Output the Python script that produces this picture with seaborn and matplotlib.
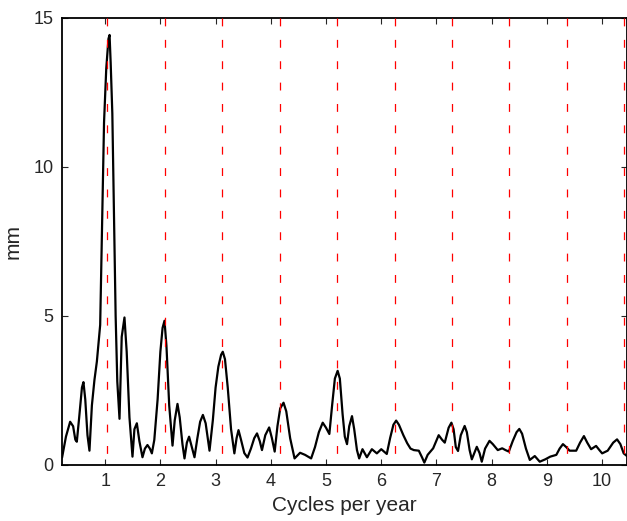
import numpy as np
import pandas as pd
import seaborn as sns
import matplotlib
matplotlib.use("Agg")
import matplotlib.pyplot as plt

# amplitude spectrum (cycles per year, mm)
freq = [0.22, 0.29, 0.366, 0.42, 0.46, 0.487, 0.53, 0.58, 0.607, 0.64, 0.68, 0.716,
        0.76, 0.806, 0.85, 0.91, 0.95, 0.98, 1.02, 1.06, 1.08, 1.10, 1.13, 1.16,
        1.19, 1.22, 1.26, 1.30, 1.35, 1.39, 1.44, 1.495, 1.53, 1.574, 1.62, 1.676,
        1.72, 1.766, 1.81, 1.846, 1.89, 1.95, 2.0, 2.04, 2.075, 2.11, 2.16, 2.22,
        2.26, 2.31, 2.35, 2.40, 2.437, 2.48, 2.52, 2.57, 2.618, 2.67, 2.72, 2.77,
        2.82, 2.89, 2.95, 3.0, 3.05, 3.10, 3.13, 3.17, 3.22, 3.28, 3.34, 3.38,
        3.415, 3.46, 3.52, 3.578, 3.64, 3.70, 3.75, 3.80, 3.84, 3.90, 3.97, 4.02,
        4.07, 4.12, 4.17, 4.23, 4.28, 4.35, 4.43, 4.53, 4.62, 4.73, 4.80, 4.87,
        4.94, 5.0, 5.06, 5.11, 5.16, 5.21, 5.25, 5.30, 5.34, 5.38, 5.42, 5.47,
        5.51, 5.56, 5.6, 5.66, 5.74, 5.83, 5.92, 6.0, 6.1, 6.16, 6.22, 6.27,
        6.32, 6.40, 6.47, 6.53, 6.59, 6.68, 6.74, 6.78, 6.84, 6.94, 7.04, 7.10,
        7.15, 7.22, 7.27, 7.31, 7.35, 7.39, 7.44, 7.51, 7.55, 7.60, 7.64, 7.73,
        7.78, 7.82, 7.88, 7.96, 8.02, 8.11, 8.19, 8.25, 8.31, 8.38, 8.45, 8.5,
        8.55, 8.62, 8.69, 8.78, 8.87, 8.97, 9.06, 9.17, 9.23, 9.29, 9.35, 9.41,
        9.53, 9.60, 9.67, 9.73, 9.80, 9.89, 9.95, 10.0, 10.1, 10.2, 10.27, 10.33,
        10.39, 10.45]
amp = [0.25, 0.95, 1.45, 1.3, 0.85, 0.78, 1.6, 2.6, 2.78, 2.2, 1.0, 0.48,
       2.0, 2.85, 3.47, 4.7, 8.5, 11.5, 13.3, 14.3, 14.43, 13.5, 11.8, 8.5,
       5.0, 2.8, 1.55, 4.3, 4.95, 3.8, 1.6, 0.28, 1.2, 1.4, 0.8, 0.26,
       0.55, 0.67, 0.55, 0.39, 0.84, 2.2, 3.8, 4.6, 4.84, 4.0, 2.0, 0.65,
       1.5, 2.05, 1.6, 0.7, 0.22, 0.75, 0.95, 0.6, 0.26, 0.9, 1.45, 1.68,
       1.4, 0.48, 1.5, 2.6, 3.3, 3.7, 3.8, 3.55, 2.6, 1.2, 0.39, 0.9,
       1.17, 0.85, 0.4, 0.25, 0.55, 0.9, 1.06, 0.8, 0.5, 1.0, 1.26, 0.9,
       0.45, 1.3, 1.9, 2.09, 1.8, 0.9, 0.22, 0.41, 0.34, 0.22, 0.6, 1.1,
       1.42, 1.25, 1.04, 2.0, 2.9, 3.16, 2.9, 1.7, 0.95, 0.7, 1.3, 1.64,
       1.2, 0.5, 0.22, 0.53, 0.26, 0.53, 0.39, 0.53, 0.37, 0.9, 1.35, 1.49,
       1.35, 1.0, 0.73, 0.55, 0.5, 0.48, 0.25, 0.08, 0.34, 0.56, 1.0, 0.85,
       0.75, 1.25, 1.42, 1.2, 0.6, 0.47, 1.0, 1.31, 1.1, 0.5, 0.19, 0.61,
       0.4, 0.11, 0.55, 0.81, 0.7, 0.5, 0.56, 0.5, 0.45, 0.8, 1.1, 1.21,
       1.05, 0.55, 0.17, 0.3, 0.11, 0.19, 0.28, 0.34, 0.55, 0.7, 0.6, 0.48,
       0.48, 0.75, 0.97, 0.75, 0.53, 0.64, 0.5, 0.39, 0.48, 0.75, 0.86, 0.7,
       0.39, 0.3]

# draconic-year harmonics
harmonics = [1.04 * k for k in range(1, 11)]
x_ticks = [1, 2, 3, 4, 5, 6, 7, 8, 9, 10]
y_ticks = [0, 5, 10, 15]

df = pd.DataFrame({"freq": freq, "amp": amp})

sns.set_style("ticks")
plt.rcParams["font.family"] = ["Liberation Sans", "DejaVu Sans"]

fig = plt.figure(figsize=(6.27, 5.21), dpi=100)
ax = fig.add_axes([0.099, 0.1075, 0.901, 0.858])

sns.lineplot(data=df, x="freq", y="amp", color="black", linewidth=1.6, ax=ax, zorder=2)
ax.vlines(harmonics, 15, 0, colors="red", linewidth=0.9,
          linestyles=(0, (6.3, 10.8)), zorder=3)

ax.set_xlim(0.22, 10.45)
ax.set_ylim(0, 15)
ax.set_xticks(x_ticks)
ax.set_yticks(y_ticks)
ax.tick_params(direction="in", length=4, width=0.8, top=True, right=True,
               labelsize=13, pad=6)
for s in ax.spines.values():
    s.set_linewidth(1.3)
    s.set_color("black")
ax.set_xlabel("Cycles per year", fontsize=15, labelpad=4)
ax.set_ylabel("mm", fontsize=15, labelpad=8)

fig.savefig("out.png", dpi=100)
